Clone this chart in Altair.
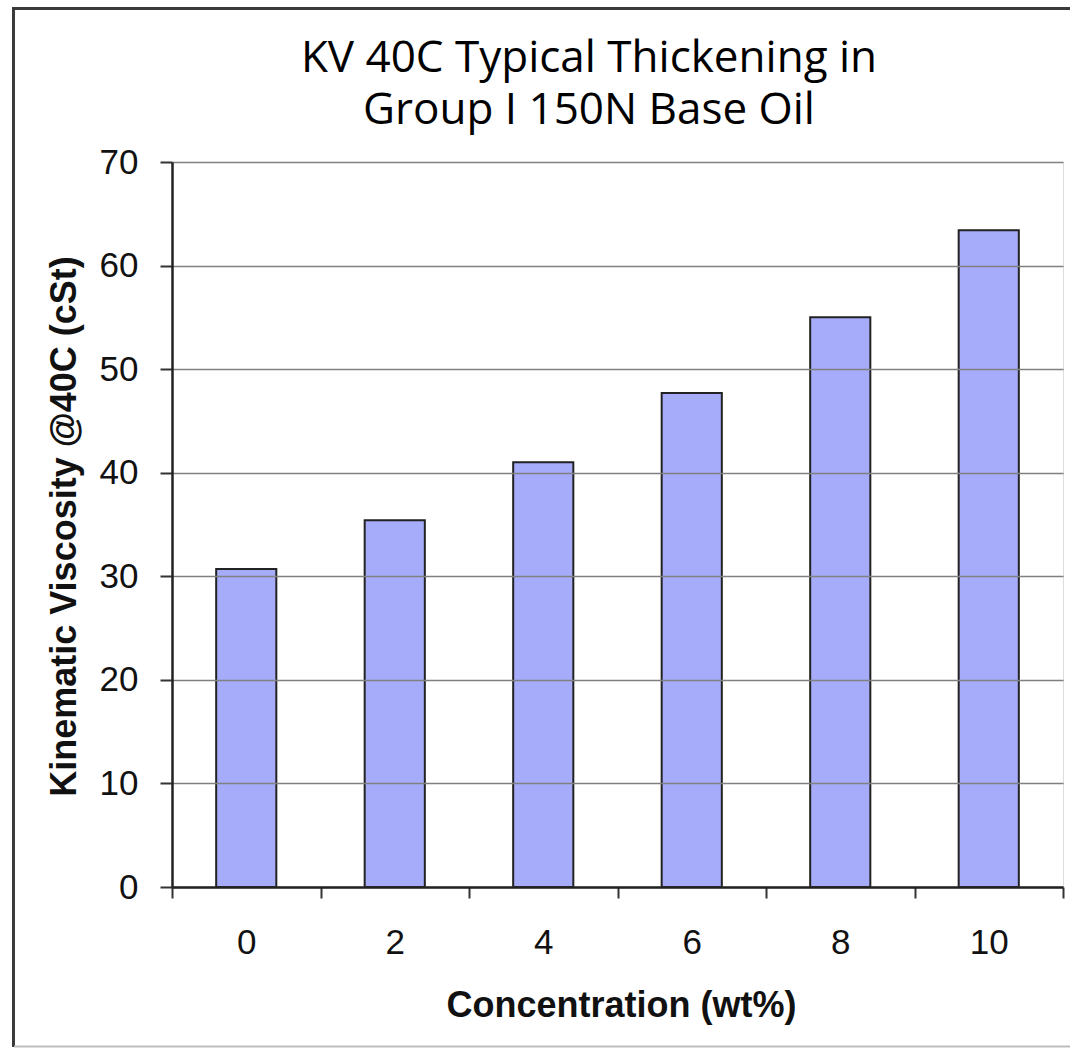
import altair as alt
import pandas as pd

# ---- data ----
concentration = ["0", "2", "4", "6", "8", "10"]
viscosity = [30.7, 35.4, 41.0, 47.7, 55.0, 63.4]
y_ticks = [0, 10, 20, 30, 40, 50, 60, 70]
title_lines = ["KV 40C Typical Thickening in", "Group I 150N Base Oil"]
x_title = "Concentration (wt%)"
y_title = "Kinematic Viscosity @40C (cSt)"

df = pd.DataFrame({"conc": concentration, "kv": viscosity})
frame_df = pd.DataFrame({"k": [0]})

AX_FONT = "Liberation Sans"

bars = alt.Chart(df).mark_bar(
    width=alt.RelativeBandSize(0.405),
    fill="#a6acfa",
    stroke="#222222",
    strokeWidth=2,
).encode(
    x=alt.X(
        "conc:O",
        sort=concentration,
        scale=alt.Scale(paddingInner=0, paddingOuter=0),
        axis=alt.Axis(
            title=x_title,
            labelAngle=0,
            tickBand="extent",
            grid=False,
            labelFont=AX_FONT,
            labelFontSize=35,
            labelColor="#111111",
            labelPadding=27,
            tickSize=11,
            tickWidth=2,
            tickColor="#333333",
            domainColor="#222222",
            domainWidth=2.5,
            titleFont=AX_FONT,
            titleFontSize=36,
            titleFontWeight="bold",
            titleColor="#111111",
            titleBaseline="alphabetic",
            titleY=129,
            titleX=449,
            zindex=1,
        ),
    ),
    y=alt.Y(
        "kv:Q",
        scale=alt.Scale(domain=[0, 70], nice=False),
        axis=alt.Axis(
            title=y_title,
            values=y_ticks,
            grid=True,
            gridColor="#808080",
            gridWidth=1.5,
            labelFont=AX_FONT,
            labelFontSize=35,
            labelColor="#111111",
            labelPadding=22,
            tickSize=12,
            tickWidth=2,
            tickColor="#333333",
            domainColor="#222222",
            domainWidth=2.5,
            titleFont=AX_FONT,
            titleFontSize=36,
            titleFontWeight="bold",
            titleColor="#111111",
            titleBaseline="alphabetic",
            titleX=-97,
            titleY=364,
            titleAlign="center",
            zindex=1,
        ),
    ),
)

# chart title, two centred lines above the plot
title_text = alt.Chart(frame_df).mark_text(
    text=title_lines,
    font="Open Sans",
    fontSize=44,
    lineHeight=52,
    align="center",
    baseline="alphabetic",
    color="#000000",
).encode(x=alt.value(417), y=alt.value(-90))

# decorative outer frame of the picture
frame_left = alt.Chart(frame_df).mark_rule(color="#3a3a3a", strokeWidth=3).encode(
    x=alt.value(-158.5), y=alt.value(-155), y2=alt.value(885)
)
frame_top = alt.Chart(frame_df).mark_rule(color="#3a3a3a", strokeWidth=3).encode(
    x=alt.value(-160), x2=alt.value(910), y=alt.value(-153.5)
)
frame_bottom = alt.Chart(frame_df).mark_rule(color="#bdbdbd", strokeWidth=2).encode(
    x=alt.value(-158), x2=alt.value(910), y=alt.value(884.5)
)

chart = alt.layer(bars, title_text, frame_left, frame_top, frame_bottom).properties(
    width=891,
    height=725,
    autosize=alt.AutoSizeParams(type="none"),
    padding={"left": 172, "top": 162, "right": 7, "bottom": 161},
).configure_view(
    stroke="#8c8c8c", strokeWidth=1.5
).configure(background="white")

chart.save("out.html", embed_options={"renderer": "svg", "actions": False})
